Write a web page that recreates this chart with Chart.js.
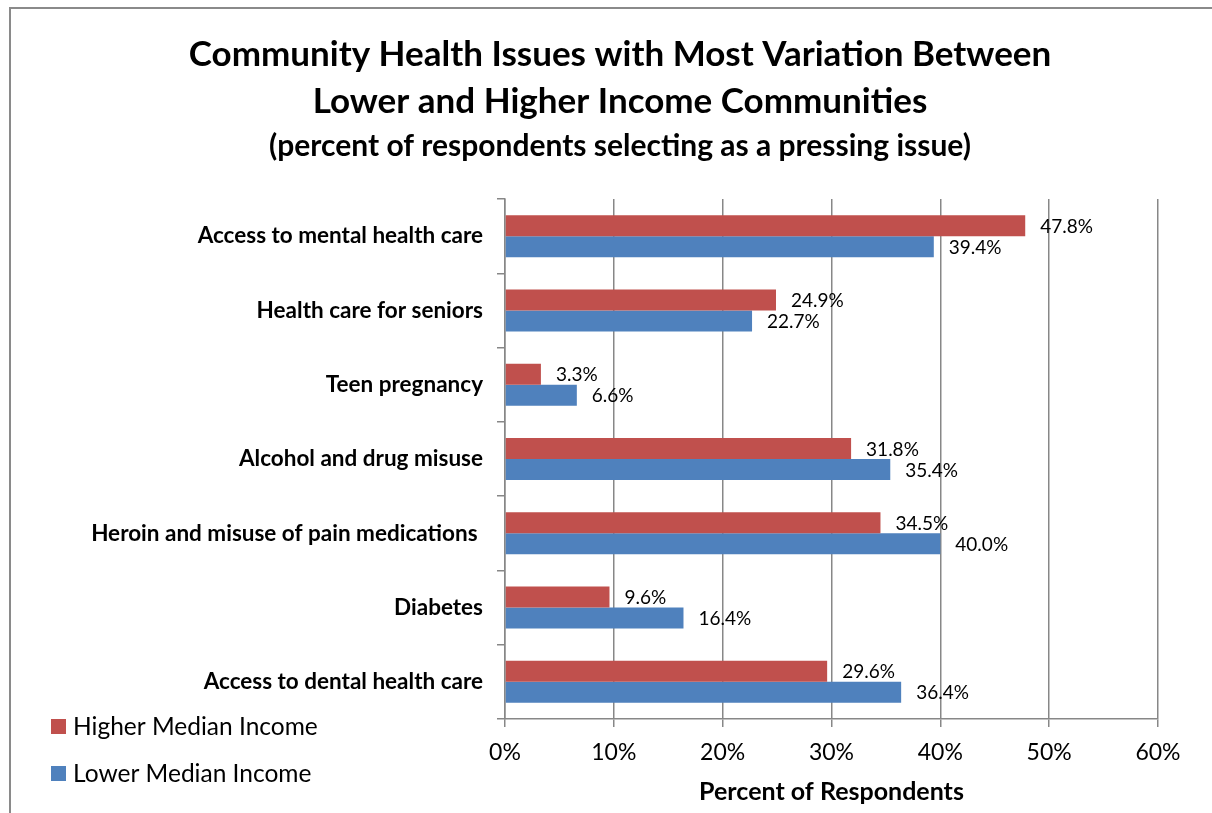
<!DOCTYPE html>
<html><head><meta charset="utf-8">
<script src="https://cdn.jsdelivr.net/npm/chart.js@4.4.0/dist/chart.umd.min.js"></script>
<style>html,body{margin:0;padding:0;background:#fff;} #wrap{width:1212px;height:813px;position:relative;background:#fff}</style>
</head><body><div id="wrap"><canvas id="c" width="1212" height="813"></canvas></div>
<script>
const categories = [
  'Access to mental health care',
  'Health care for seniors',
  'Teen pregnancy',
  'Alcohol and drug misuse',
  'Heroin and misuse of pain medications ',
  'Diabetes',
  'Access to dental health care'
];
const higherIncome = [47.8, 24.9, 3.3, 31.8, 34.5, 9.6, 29.6];
const lowerIncome  = [39.4, 22.7, 6.6, 35.4, 40.0, 16.4, 36.4];
const seriesNames = ['Higher Median Income', 'Lower Median Income'];
const seriesColors = ['#C0504D', '#4F81BD'];
const titleLines = ['Community Health Issues with Most Variation Between', 'Lower and Higher Income Communities'];
const subtitleText = '(percent of respondents selecting as a pressing issue)';
const xAxisTitle = 'Percent of Respondents';
const xMin = 0, xMax = 60, xStep = 10;

const FONT = 'Lato';
const gridColor = '#878787';

const borderPlugin = {
  id: 'outerBorder',
  beforeDraw(chart) {
    const ctx = chart.ctx;
    ctx.save();
    ctx.fillStyle = '#fff';
    ctx.fillRect(0, 0, chart.width, chart.height);
    ctx.strokeStyle = '#8a8a8a';
    ctx.lineWidth = 2;
    ctx.strokeRect(10, 8, 1400, 1000);
    ctx.restore();
  }
};

const valueLabelPlugin = {
  id: 'valueLabels',
  afterDatasetsDraw(chart) {
    const ctx = chart.ctx;
    ctx.save();
    ctx.font = '19px ' + FONT;
    ctx.fillStyle = '#000';
    ctx.textAlign = 'left';
    ctx.textBaseline = 'middle';
    chart.data.datasets.forEach((ds, i) => {
      const meta = chart.getDatasetMeta(i);
      meta.data.forEach((el, j) => {
        ctx.fillText(ds.data[j].toFixed(1) + '%', el.x + 15, el.y + 1);
      });
    });
    ctx.restore();
  }
};

const legendPlugin = {
  id: 'customLegend',
  afterDraw(chart) {
    const ctx = chart.ctx;
    ctx.save();
    ctx.font = '24.5px ' + FONT;
    ctx.textAlign = 'left';
    ctx.textBaseline = 'middle';
    const rows = [726, 773];
    chart.data.datasets.forEach((ds, i) => {
      const y = rows[i];
      ctx.fillStyle = ds.backgroundColor;
      ctx.fillRect(51, y - 7, 15, 15);
      ctx.fillStyle = '#000';
      ctx.fillText(ds.label, 73, y + 1);
    });
    ctx.restore();
  }
};

new Chart(document.getElementById('c'), {
  type: 'bar',
  data: {
    labels: categories,
    datasets: [
      { label: seriesNames[0], data: higherIncome, backgroundColor: seriesColors[0], borderWidth: 0 },
      { label: seriesNames[1], data: lowerIncome, backgroundColor: seriesColors[1], borderWidth: 0 }
    ]
  },
  options: {
    indexAxis: 'y',
    responsive: false,
    animation: false,
    devicePixelRatio: 1,
    categoryPercentage: 0.565,
    barPercentage: 1.0,
    layout: { padding: { left: 28, right: 0, top: 0, bottom: 0 } },
    plugins: {
      legend: { display: false },
      tooltip: { enabled: false },
      title: {
        display: true,
        text: titleLines,
        color: '#000',
        font: { family: FONT, size: 35, weight: 'bold', lineHeight: 1.343 },
        padding: { top: 31, bottom: 0 }
      },
      subtitle: {
        display: true,
        text: subtitleText,
        color: '#000',
        font: { family: FONT, size: 30, weight: 'bold', lineHeight: 1.2 },
        padding: { top: 3, bottom: 35 }
      }
    },
    scales: {
      x: {
        min: xMin, max: xMax,
        ticks: { stepSize: xStep, color: '#000', font: { family: FONT, size: 23 }, padding: 12,
                 callback: v => v + '%' },
        grid: { color: gridColor, lineWidth: 1.5, tickLength: 8, drawTicks: true },
        border: { color: gridColor, width: 1.5 },
        title: { display: true, text: xAxisTitle, color: '#000',
                 font: { family: FONT, size: 25, weight: 'bold' }, padding: { top: 4, bottom: 6 } },
        afterFit(scale) { scale.height = 94; }
      },
      y: {
        ticks: { color: '#000', font: { family: FONT, size: 22.5, weight: 'bold' }, padding: 14 },
        grid: { drawOnChartArea: false, color: gridColor, lineWidth: 1.5, tickLength: 8, offset: true },
        border: { color: gridColor, width: 1.5 },
        afterFit(scale) { scale.width = 477; }
      },
      yRight: {
        type: 'category',
        position: 'right',
        labels: [''],
        ticks: { display: false },
        grid: { display: false, drawTicks: false },
        border: { display: false },
        afterFit(scale) { scale.width = 54; }
      }
    }
  },
  plugins: [borderPlugin, valueLabelPlugin, legendPlugin]
});
</script>
</body></html>
